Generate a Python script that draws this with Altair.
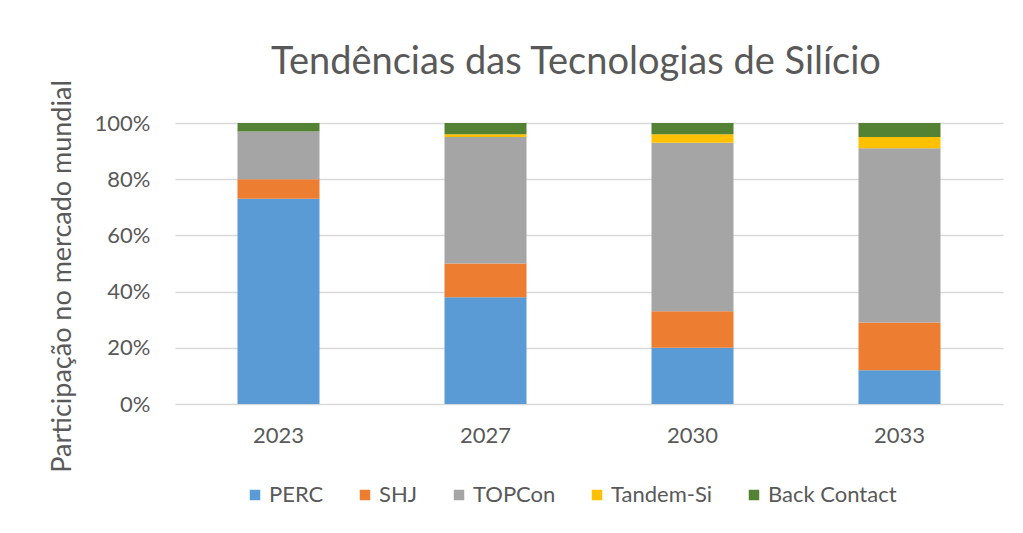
import altair as alt
import pandas as pd

years = ["2023", "2027", "2030", "2033"]
techs = ["PERC", "SHJ", "TOPCon", "Tandem-Si", "Back Contact"]
colors = ["#5B9BD5", "#ED7D31", "#A5A5A5", "#FFC000", "#548235"]
perc = [73, 38, 20, 12]
shj = [7, 12, 13, 17]
topcon = [17, 45, 60, 62]
tandem = [0, 1, 3, 4]
back_contact = [3, 4, 4, 5]

series = [perc, shj, topcon, tandem, back_contact]
rows = []
for ti, (t, vals) in enumerate(zip(techs, series)):
    for y, v in zip(years, vals):
        rows.append({"Ano": y, "Tecnologia": t, "share": v / 100.0, "ordem": ti})
df = pd.DataFrame(rows)

FONT = "Lato"
GREY = "#595959"

chart = alt.Chart(df).mark_bar(size=82).encode(
    x=alt.X("Ano:N", sort=years,
            scale=alt.Scale(paddingInner=0.6, paddingOuter=0.3),
            axis=alt.Axis(title=None, labelAngle=0, labelFontSize=22, labelColor=GREY,
                          labelFont=FONT, labelPadding=21, domain=False, ticks=False,
                          grid=False)),
    y=alt.Y("share:Q", stack="zero",
            scale=alt.Scale(domain=[0, 1]),
            axis=alt.Axis(title="Participação no mercado mundial", format=".0%",
                          values=[0, 0.2, 0.4, 0.6, 0.8, 1.0],
                          labelFontSize=22, labelColor=GREY, labelFont=FONT,
                          labelPadding=25, domain=False, ticks=False,
                          gridColor="#D9D9D9", gridWidth=1.5,
                          titleFont=FONT, titleFontSize=27, titleColor=GREY,
                          titleFontWeight="normal", titleAngle=-90,
                          titleX=-113, titleY=153, titleAlign="center",
                          titleBaseline="middle")),
    color=alt.Color("Tecnologia:N", sort=techs,
                    scale=alt.Scale(domain=techs, range=colors),
                    legend=alt.Legend(title=None, orient="none", direction="horizontal",
                                      legendX=69, legendY=361,
                                      symbolType="square", symbolSize=110,
                                      symbolStrokeWidth=0,
                                      labelFont=FONT, labelFontSize=22, labelColor=GREY,
                                      labelOffset=3, columnPadding=30)),
    order=alt.Order("ordem:Q", sort="ascending"),
).properties(
    width=828,
    height=281,
    padding={"left": 167, "top": 115, "right": 12, "bottom": 110},
    autosize=alt.AutoSizeParams(type="none"),
    title=alt.TitleParams("Tendências das Tecnologias de Silício", font=FONT, fontSize=38,
                          fontWeight="normal", color=GREY, anchor="middle",
                          frame="group", offset=50, baseline="alphabetic", dx=-13, dy=82),
).configure_view(stroke=None)

chart.save("out.html", embed_options={"renderer": "svg", "actions": False})
